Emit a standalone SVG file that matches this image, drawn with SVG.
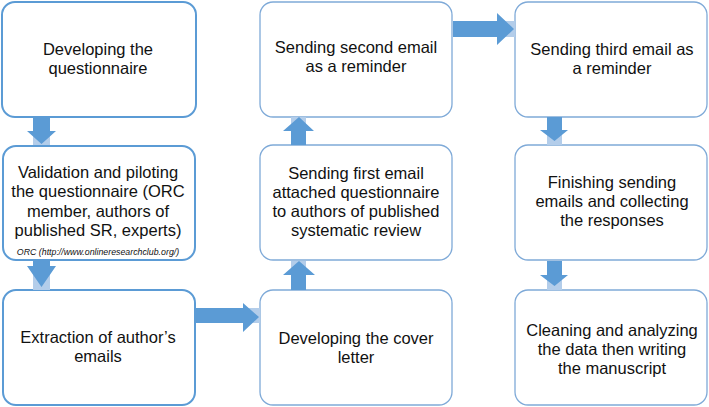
<svg xmlns="http://www.w3.org/2000/svg" width="709" height="407" viewBox="0 0 709 407">
<style>
.b1{fill:#fff;stroke:#5b9bd5;stroke-width:2}
.b2{fill:#fff;stroke:#7faad8;stroke-width:1.3}
.t{font-family:"Liberation Sans",Arial,sans-serif;font-size:16.5px;fill:#111;text-anchor:middle}
.s{font-family:"Liberation Sans",sans-serif;font-size:8.8px;font-style:italic;fill:#111;text-anchor:middle}
.a{fill:#5b9bd5}
.l{fill:#b3cdea}
</style>
<rect width="709" height="407" fill="#fff"/>
<g id="n1"><rect class="b1" x="2" y="2" width="194" height="115" rx="13"/>
<text class="t" x="98" y="55">Developing the</text><text class="t" x="98" y="74">questionnaire</text></g>
<g id="n2"><rect class="b1" x="3" y="146" width="192" height="114" rx="13"/>
<text class="t" x="98" y="178">Validation and piloting</text><text class="t" x="98" y="197">the questionnaire (ORC</text><text class="t" x="98" y="217">member, authors of</text><text class="t" x="98" y="236">published SR, experts)</text>
<text class="s" x="98" y="255">ORC (http://www.onlineresearchclub.org/)</text></g>
<g id="n3"><rect class="b1" x="3" y="290" width="192" height="115" rx="13"/>
<text class="t" x="98" y="343">Extraction of author’s</text><text class="t" x="98" y="362">emails</text></g>
<g id="n4"><rect class="b2" x="260" y="290" width="192" height="115" rx="13"/>
<text class="t" x="356" y="344">Developing the cover</text><text class="t" x="356" y="363">letter</text></g>
<g id="n5"><rect class="b2" x="260" y="145" width="192" height="115" rx="13"/>
<text class="t" x="356" y="179">Sending first email</text><text class="t" x="356" y="198">attached questionnaire</text><text class="t" x="356" y="217">to authors of published</text><text class="t" x="356" y="236">systematic review</text></g>
<g id="n6"><rect class="b2" x="260" y="2" width="192" height="115" rx="13"/>
<text class="t" x="356" y="53">Sending second email</text><text class="t" x="356" y="72">as a reminder</text></g>
<g id="n7"><rect class="b2" x="515" y="2" width="192" height="115" rx="13"/>
<text class="t" x="612" y="55">Sending third email as</text><text class="t" x="612" y="74">a reminder</text></g>
<g id="n8"><rect class="b2" x="515" y="145" width="192" height="115" rx="13"/>
<text class="t" x="612" y="188">Finishing sending</text><text class="t" x="612" y="207">emails and collecting</text><text class="t" x="612" y="226">the responses</text></g>
<g id="n9"><rect class="b2" x="515" y="290" width="192" height="115" rx="13"/>
<text class="t" x="612" y="336">Cleaning and analyzing</text><text class="t" x="612" y="355">the data then writing</text><text class="t" x="612" y="374">the manuscript</text></g>
<g id="connectors">
<rect class="l" x="33" y="130" width="17" height="15"/>
<polygon class="a" points="33,117 50,117 50,131 56,131 41.5,144 27,131 33,131"/>
<rect class="l" x="33" y="265" width="17" height="25"/>
<polygon class="a" points="33,261 50,261 50,266 56,266 41.5,287 27,266 33,266"/>
<rect class="l" x="240" y="308" width="20" height="15"/>
<polygon class="a" points="196,308 243,308 243,303 259,317 243,332 243,323 196,323"/>
<rect class="l" x="291" y="117" width="15" height="14"/>
<polygon class="a" points="291,145 291,131 283,131 299,117 314,131 306,131 306,145"/>
<rect class="l" x="291" y="261" width="15" height="14"/>
<polygon class="a" points="291,290 291,275 283,275 299,261 315,275 306,275 306,290"/>
<rect class="l" x="497" y="21" width="18" height="16"/>
<polygon class="a" points="453,21 497,21 497,13 514,29 497,45 497,37 453,37"/>
<rect class="l" x="547" y="128" width="15" height="17"/>
<polygon class="a" points="547,117 562,117 562,130 568,130 554.5,141 540,130 547,130"/>
<rect class="l" x="547" y="274" width="15" height="16"/>
<polygon class="a" points="547,261 562,261 562,275 568,275 554.5,286 540,275 547,275"/>
</g>
</svg>
